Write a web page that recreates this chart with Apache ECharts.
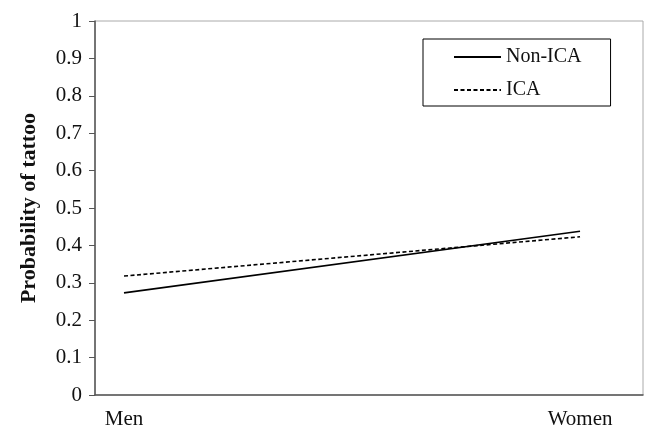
<!DOCTYPE html>
<html><head><meta charset="utf-8">
<script src="https://cdn.jsdelivr.net/npm/echarts@6/dist/echarts.min.js"></script>
<style>html,body{margin:0;padding:0;background:#fff}#c{width:659px;height:430px}</style>
</head><body><div id="c"></div>
<script>
var categories = ['Men', 'Women'];
var nonICA = [0.273, 0.438];
var ica = [0.318, 0.423];
var yTicks = [0, 0.1, 0.2, 0.3, 0.4, 0.5, 0.6, 0.7, 0.8, 0.9, 1];

var font = '"Liberation Serif", "Times New Roman", serif';
var chart = echarts.init(document.getElementById('c'));
function pts(arr){ return arr.map(function(v,i){ return [i, v]; }); }
chart.setOption({
  animation: false,
  backgroundColor: '#fff',
  textStyle: { fontFamily: font },
  grid: { left: 95, right: 16, top: 21, bottom: 35, show: true, borderColor: '#aaa', borderWidth: 1 },
  legend: {
    orient: 'vertical', left: 423, top: 39,
    padding: [8, 29, 6, 30], itemGap: 13, itemWidth: 47, itemHeight: 12,
    borderColor: '#000', borderWidth: 1,
    itemStyle: { opacity: 0 },
    textStyle: { fontFamily: font, fontSize: 20, color: '#111' },
    data: ['Non-ICA', 'ICA']
  },
  xAxis: {
    type: 'value', min: -0.0636, max: 1.138,
    splitLine: { show: false },
    axisLine: { show: true, onZero: false, lineStyle: { color: '#555', width: 1.5 } },
    axisTick: { show: false },
    axisLabel: {
      customValues: [0, 1],
      formatter: function(v){ return categories[Math.round(v)] || ''; },
      fontFamily: font, fontSize: 21, color: '#111', margin: 14
    }
  },
  yAxis: {
    type: 'value', min: 0, max: 1, interval: 0.1,
    name: 'Probability of tattoo', nameLocation: 'middle', nameGap: 55,
    nameTextStyle: { fontFamily: font, fontSize: 22, fontWeight: 'bold', color: '#111' },
    splitLine: { show: false },
    axisLine: { show: true, onZero: false, lineStyle: { color: '#555', width: 1.5 } },
    axisTick: { show: true, length: 6, lineStyle: { color: '#555' } },
    axisLabel: {
      fontFamily: font, fontSize: 21, color: '#111', margin: 13,
      formatter: function(v){ var t = yTicks.filter(function(x){ return Math.abs(x - v) < 1e-6; })[0]; return String(t); }
    }
  },
  series: [
    { name: 'Non-ICA', type: 'line', data: pts(nonICA), symbol: 'none',
      lineStyle: { color: '#000', width: 1.6, type: 'solid' }, itemStyle: { color: '#000' } },
    { name: 'ICA', type: 'line', data: pts(ica), symbol: 'none',
      lineStyle: { color: '#000', width: 1.6, type: [4, 2.5] }, itemStyle: { color: '#000' } }
  ]
});
</script></body></html>
